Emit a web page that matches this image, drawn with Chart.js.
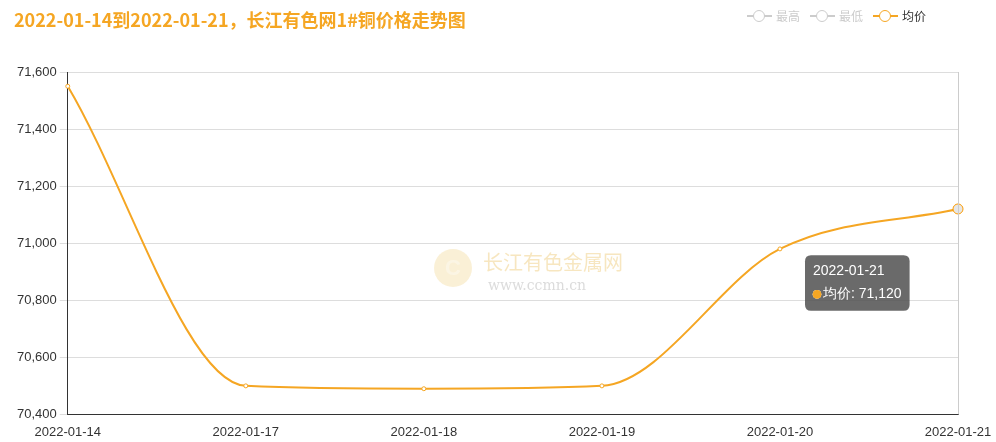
<!DOCTYPE html>
<html><head><meta charset="utf-8">
<script src="https://cdn.jsdelivr.net/npm/chart.js@4"></script>
<style>
body{margin:0;background:#fff;font-family:"Noto Sans CJK SC","Noto Sans",sans-serif}
#wrap{position:relative;width:996px;height:442px}
#title{position:absolute;left:14px;top:6px;font-size:18px;font-weight:bold;color:#f5a623;font-family:"Noto Sans CJK SC",sans-serif}
#legend{position:absolute;right:70px;top:7px;font-size:12px;color:#999;display:flex;gap:10px}
.li{display:flex;align-items:center;gap:4px}
.sym{position:relative;width:25px;height:14px}
.sym:before{content:"";position:absolute;left:0;right:0;top:6px;height:2px;background:currentColor}
.sym:after{content:"";position:absolute;left:6px;top:1px;width:10px;height:10px;border:1.5px solid currentColor;border-radius:50%;background:#fff}
</style></head><body>
<div id="wrap">
<canvas id="c" width="996" height="442"></canvas>
<div id="title">2022-01-14到2022-01-21，长江有色网1#铜价格走势图</div>
<div id="legend">
<div class="li" style="color:#ccc"><span class="sym"></span><span style="color:#ccc">最高</span></div>
<div class="li" style="color:#ccc"><span class="sym"></span><span style="color:#ccc">最低</span></div>
<div class="li" style="color:#f5a623"><span class="sym"></span><span style="color:#333">均价</span></div>
</div>
</div>
<script>
const categories=["2022-01-14","2022-01-17","2022-01-18","2022-01-19","2022-01-20","2022-01-21"];
const avgPrice=[71550,70500,70490,70500,70980,71120];
const seriesName="均价";
Chart.Tooltip.positioners.leftBelow=function(items){if(!items.length)return false;const e=items[0].element;return {x:e.x-155,y:e.y+74};};
const wm={id:'wm',beforeDatasetsDraw(ch){const c=ch.ctx;c.save();c.globalAlpha=0.35;
c.beginPath();c.arc(453,268,19,0,Math.PI*2);c.fillStyle='#f0d58a';c.fill();
c.fillStyle='#fff';c.font='bold 22px sans-serif';c.textAlign='center';c.textBaseline='middle';c.fillText('C',453,269);
c.fillStyle='#e8b84a';c.textAlign='left';c.font='20px "Noto Sans CJK SC"';c.fillText('长江有色金属网',483,262);
c.fillStyle='#999';c.font='14px "DejaVu Serif"';c.fillText('www.ccmn.cn',488,286);c.restore();}};
const ch=new Chart(document.getElementById('c'),{type:'line',
data:{labels:categories,datasets:[{label:seriesName,data:avgPrice,borderColor:'#f5a623',borderWidth:2,cubicInterpolationMode:'monotone',
pointRadius:[2,2,2,2,2,5],pointHoverRadius:5,pointBackgroundColor:'#fff',pointBorderColor:'#f5a623',pointBorderWidth:1,fill:false}]},
options:{responsive:false,animation:false,layout:{padding:{top:72,right:38,left:14,bottom:0}},
plugins:{legend:{display:false},tooltip:{position:'leftBelow',xAlign:'left',yAlign:'center',backgroundColor:'rgba(80,80,80,0.85)',titleFont:{size:14,weight:'normal'},bodyFont:{size:14},
padding:8,caretSize:0,boxWidth:8,boxHeight:8,usePointStyle:true,
callbacks:{label:(i)=>seriesName+': '+i.parsed.y.toLocaleString('en-US'),labelColor:()=>({borderColor:'#f5a623',backgroundColor:'#f5a623'})}}},
scales:{x:{offset:false,grid:{display:false},border:{color:'#333'},ticks:{color:'#333',font:{size:13},maxRotation:0,autoSkip:false,padding:2}},
y:{min:70400,max:71600,grid:{color:'#ddd'},border:{color:'#333'},ticks:{stepSize:200,color:'#333',font:{size:13},callback:v=>v.toLocaleString('en-US')}}}},
plugins:[wm,{id:'rb',afterDraw(c){const a=c.chartArea,x=c.ctx;x.save();x.strokeStyle='#ccc';x.beginPath();x.moveTo(a.right+.5,a.top);x.lineTo(a.right+.5,a.bottom);x.stroke();x.restore();}}]});
ch.setActiveElements([{datasetIndex:0,index:5}]);
ch.tooltip.setActiveElements([{datasetIndex:0,index:5}],{x:0,y:0});
ch.update();
</script></body></html>
